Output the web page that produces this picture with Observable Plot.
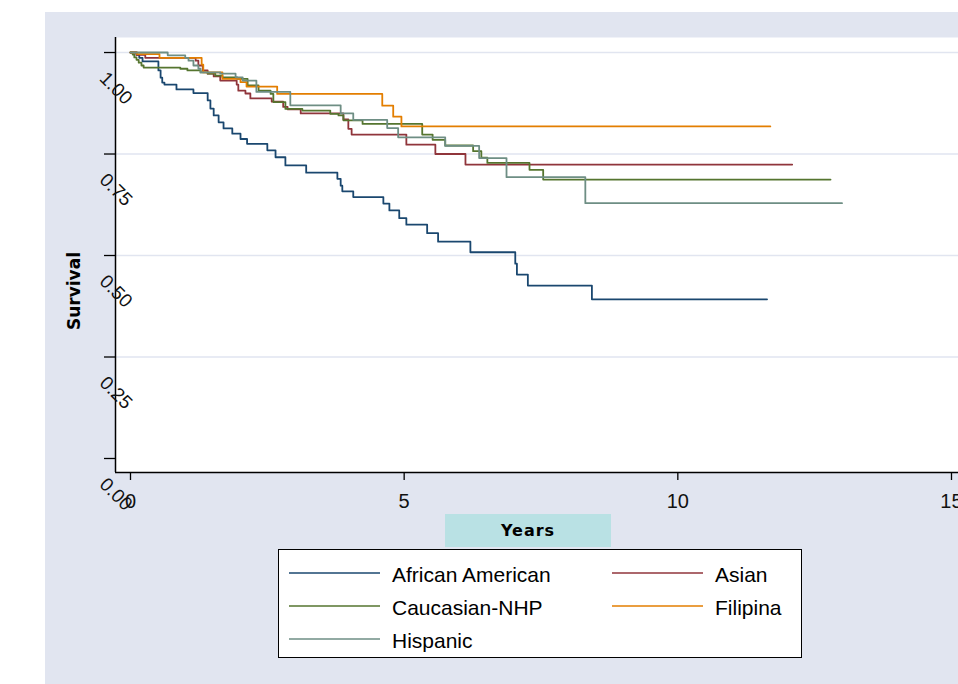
<!DOCTYPE html>
<html><head><meta charset="utf-8">
<script src="https://cdn.jsdelivr.net/npm/d3@7"></script>
<script src="https://cdn.jsdelivr.net/npm/@observablehq/plot@0.6"></script>
<style>
body{margin:0;background:#fff;}
#wrap{position:relative;width:958px;height:684px;overflow:hidden;font-family:"Liberation Sans",Arial,sans-serif;}
#bg{position:absolute;left:45px;top:12px;width:913px;height:672px;background:#e1e5f0;}
#chart{position:absolute;left:0;top:0;}
#ytitle{position:absolute;left:74px;top:291px;transform:translate(-50%,-50%) rotate(-90deg);font:bold 17px "DejaVu Sans",sans-serif;white-space:nowrap;color:#000;}
#xtitle{position:absolute;left:445px;top:514px;width:166px;height:33px;background:#b9e1e4;font:bold 16px "DejaVu Sans",sans-serif;letter-spacing:1px;display:flex;align-items:center;justify-content:center;}
#legend{position:absolute;left:278px;top:549px;width:524px;height:109px;border:1.5px solid #000;background:#fff;box-sizing:border-box;}
.sw{position:absolute;width:91px;height:4px;}
.lt{position:absolute;font-size:21px;line-height:24px;color:#000;white-space:nowrap;}
</style></head>
<body>
<div id="wrap"><div id="bg"></div><div id="chart"></div><div id="ytitle">Survival</div><div id="xtitle">Years</div><div id="legend"></div></div>
<script>
const groups = ["African American","Asian","Caucasian-NHP","Filipina","Hispanic"];
const colors = ["#1a476f","#90353b","#55752f","#e37e00","#6e8e84"];

const timeAfricanAmerican = [0,0.11,0.16,0.22,0.51,0.55,0.58,0.62,0.84,1.15,1.41,1.46,1.52,1.61,1.70,1.86,2.01,2.13,2.50,2.65,2.83,3.21,3.78,3.84,3.87,4.07,4.62,4.73,4.91,5.04,5.42,5.62,6.21,7.03,7.06,7.26,8.43,11.63];
const survAfricanAmerican = [1,0.994,0.987,0.978,0.956,0.938,0.926,0.921,0.909,0.900,0.882,0.862,0.845,0.828,0.813,0.800,0.787,0.775,0.759,0.742,0.722,0.704,0.689,0.672,0.658,0.644,0.628,0.611,0.592,0.576,0.555,0.534,0.508,0.480,0.453,0.426,0.392,0.392];

const timeAsian = [0,0.11,0.27,1.19,1.24,1.32,1.41,1.52,1.64,1.94,1.97,2.10,2.19,2.58,2.79,2.87,3.11,3.89,3.98,4.04,5.04,5.57,6.12,12.09];
const survAsian = [1,0.994,0.987,0.980,0.968,0.956,0.948,0.941,0.931,0.921,0.906,0.899,0.887,0.879,0.866,0.860,0.850,0.835,0.812,0.798,0.773,0.750,0.724,0.724];

const timeCaucasian = [0,0.04,0.07,0.11,0.15,0.20,0.24,0.91,1.04,1.28,1.41,1.55,1.68,1.95,2.14,2.34,2.56,2.61,2.83,3.14,3.65,3.80,3.89,4.24,5.33,5.52,5.75,6.26,6.41,6.52,7.29,7.54,12.79];
const survCaucasian = [1,0.995,0.988,0.982,0.975,0.968,0.963,0.960,0.956,0.951,0.948,0.943,0.939,0.935,0.919,0.906,0.898,0.878,0.861,0.857,0.849,0.845,0.833,0.824,0.798,0.785,0.771,0.757,0.741,0.728,0.711,0.687,0.687];

const timeFilipina = [0,0.12,0.53,1.30,1.33,1.68,2.01,2.12,2.68,4.60,4.80,4.95,11.69];
const survFilipina = [1,0.996,0.987,0.970,0.951,0.935,0.927,0.916,0.898,0.869,0.842,0.818,0.818];

const timeHispanic = [0,0.68,1.00,1.06,1.15,1.24,1.28,1.64,1.92,2.05,2.30,2.92,3.84,4.07,4.69,4.89,5.75,6.37,6.87,8.31,13.00];
const survHispanic = [1,0.993,0.987,0.980,0.968,0.960,0.951,0.948,0.939,0.931,0.903,0.870,0.850,0.834,0.814,0.791,0.770,0.740,0.693,0.629,0.629];

const xTicks = [0,5,10,15];
const yTicks = [0,0.25,0.5,0.75,1];
const yGrid = [0.25,0.5,0.75,1];
const xDomain = [-0.274,15.128];
const yDomain = [-0.0345,1.037];

const series = [
  [timeAfricanAmerican, survAfricanAmerican],
  [timeAsian, survAsian],
  [timeCaucasian, survCaucasian],
  [timeFilipina, survFilipina],
  [timeHispanic, survHispanic]
];
const rows = [];
series.forEach(([ts, ss], i) => ts.forEach((t, j) => rows.push({group: groups[i], t, s: ss[j]})));

const H = 510;
const chart = Plot.plot({
  width: 958, height: H,
  marginLeft: 115, marginRight: 0, marginTop: 37, marginBottom: H - 472,
  style: {background: "transparent", overflow: "visible", fontFamily: "Liberation Sans, Arial, sans-serif"},
  x: {domain: xDomain},
  y: {domain: yDomain},
  color: {domain: groups, range: colors},
  marks: [
    Plot.frame({fill: "white", stroke: null}),
    Plot.ruleY(yGrid, {stroke: "#e1e5f0", strokeWidth: 1.5}),
    Plot.line(rows, {x: "t", y: "s", z: "group", stroke: "group", curve: "step-after", strokeWidth: 1.8}),
    Plot.ruleX([xDomain[0]], {stroke: "black", strokeWidth: 1.5}),
    Plot.ruleY([yDomain[0]], {stroke: "black", strokeWidth: 1.5}),
    Plot.axisX(xTicks, {tickSize: 8, tickPadding: 13, fontSize: 20, label: null, tickFormat: d => String(d), stroke: "black", strokeWidth: 1.3, fill: "#111"}),
    Plot.axisY(yTicks, {tickSize: 11, label: null, tickFormat: () => "", stroke: "black", strokeWidth: 1.3}),
    Plot.text(yTicks, {y: d => d, frameAnchor: "left", text: d => d.toFixed(2), rotate: 45, textAnchor: "start", lineAnchor: "bottom", dx: -17, dy: 27, fontSize: 19, fill: "#111"})
  ]
});
document.getElementById("chart").appendChild(chart);

// legend
const legend = document.getElementById("legend");
const rowY = [23, 56, 89];
const colSw = [10, 333];
const colTx = [113, 436];
groups.forEach((g, i) => {
  const r = Math.floor(i / 2), c = i % 2;
  const sw = document.createElementNS("http://www.w3.org/2000/svg", "svg");
  sw.setAttribute("class", "sw");
  sw.setAttribute("width", 91);
  sw.setAttribute("height", 4);
  sw.style.left = colSw[c] + "px";
  sw.style.top = (rowY[r] - 2) + "px";
  const ln = document.createElementNS("http://www.w3.org/2000/svg", "line");
  ln.setAttribute("x1", 0); ln.setAttribute("x2", 91);
  ln.setAttribute("y1", 2); ln.setAttribute("y2", 2);
  ln.setAttribute("stroke", colors[i]);
  ln.setAttribute("stroke-width", 1.6);
  sw.appendChild(ln);
  legend.appendChild(sw);
  const tx = document.createElement("div");
  tx.className = "lt";
  tx.style.left = colTx[c] + "px";
  tx.style.top = (rowY[r] - 10) + "px";
  tx.textContent = g;
  legend.appendChild(tx);
});
</script>
</body></html>
